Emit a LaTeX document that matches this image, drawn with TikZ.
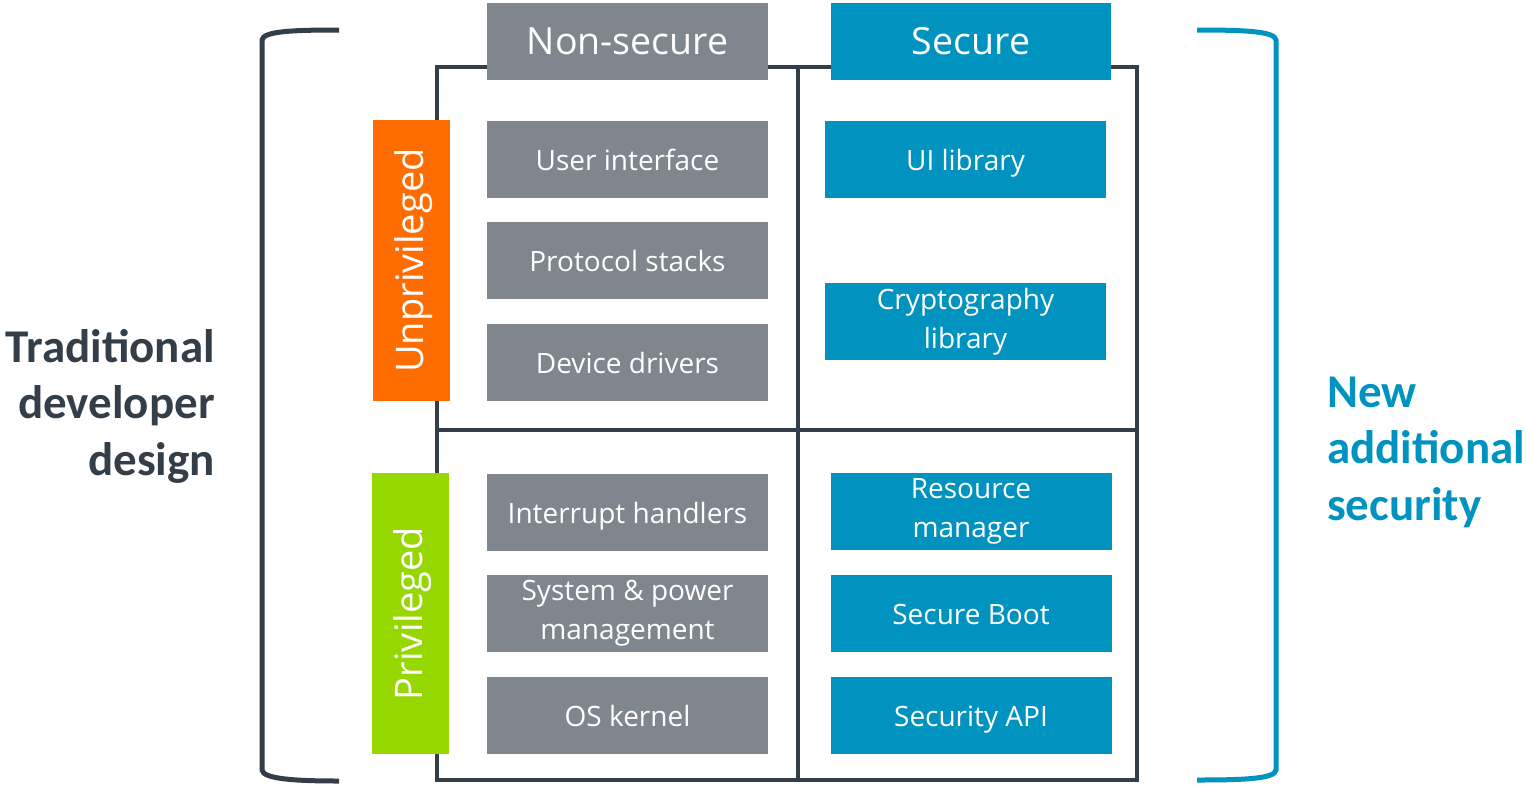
\documentclass[tikz,border=0pt]{standalone}
\usepackage{fontspec}
\setmainfont{Open Sans}
\newfontfamily\sidefont{Carlito}
\definecolor{frame}{HTML}{333E48}
\definecolor{nsgray}{HTML}{7F868D}
\definecolor{secblue}{HTML}{0093C0}
\definecolor{unpriv}{HTML}{FF6C00}
\definecolor{priv}{HTML}{97D700}
\tikzset{
  box/.style={inner sep=0pt, minimum width=281pt, minimum height=77pt, text=white, align=center},
  % fixed struts keep the text of every tile on the same optical centre
  tile/.style={box, font=\fontsize{28}{39}\selectfont,
    execute at begin node={\rule{0pt}{29pt}},
    execute at end node={\rule[-7pt]{0pt}{7pt}}},
  nstile/.style={tile, fill=nsgray},
  stile/.style={tile, fill=secblue},
  header/.style={box, font=\fontsize{37.5}{42}\selectfont},
  level/.style={box, rotate=90, font=\fontsize{38}{42}\selectfont,
    execute at begin node={\rule{0pt}{33pt}},
    execute at end node={\rule[-7pt]{0pt}{7pt}}},
  gridline/.style={draw=frame, line width=4pt},
  sidelabel/.style={font=\sidefont\bfseries\fontsize{47}{56.5}\selectfont, inner sep=0pt}
}
\begin{document}
\begin{tikzpicture}[x=1pt, y=-1pt]
\useasboundingbox (0,0) rectangle (1526,785);

% brackets
\draw[frame, line width=5pt] (339,30) .. controls (295,30) and (263,31) .. (262,40)
  -- (262,770) .. controls (263,779) and (295,781) .. (339,781);
\draw[secblue, line width=5pt] (1197,30) .. controls (1242,30) and (1275,31) .. (1276,40)
  -- (1276,770) .. controls (1275,779) and (1242,780) .. (1197,780);

% quadrant frame
\draw[gridline] (437,67) rectangle (1137,780);
\draw[gridline] (797.5,67) -- (797.5,780);
\draw[gridline] (437,430) -- (1137,430);

% column headers
\node[header, fill=nsgray] (hns) at (627.5,41) {Non-secure};
\node[header, fill=secblue, minimum width=280pt] (hs) at (971,41.5) {Secure};

% privilege levels
\node[level, fill=unpriv] (lu) at (411.5,260.5) {Unprivileged};
\node[level, fill=priv] (lp) at (410.5,613.5) {Privileged};

% non-secure components
\node[nstile] (ui) at (627.5,159) {User interface};
\node[nstile] (ps) at (627.5,260.5) {Protocol stacks};
\node[nstile] (dd) at (627.5,362.5) {Device drivers};
\node[nstile] (ih) at (627.5,512) {Interrupt handlers};
\node[nstile] (spm) at (627.5,613.5) {System \& power\\management};
\node[nstile] (os) at (627.5,715.5) {OS kernel};

% secure components
\node[stile] (uil) at (965.5,159) {UI library};
\node[stile] (cl) at (965.5,321.5) {Cryptography\\library};
\node[stile] (rm) at (971,511.5) {Resource\\manager};
\node[stile] (sb) at (971,613.5) {Secure Boot};
\node[stile] (sapi) at (971,715.5) {Security API};

% side captions
\node[sidelabel, text=frame, align=right, anchor=east] (trad) at (215,406) {Traditional\\developer\\design};
\node[sidelabel, text=secblue, align=left, anchor=west] (newsec) at (1327,452) {New\\additional\\security};
\end{tikzpicture}
\end{document}
